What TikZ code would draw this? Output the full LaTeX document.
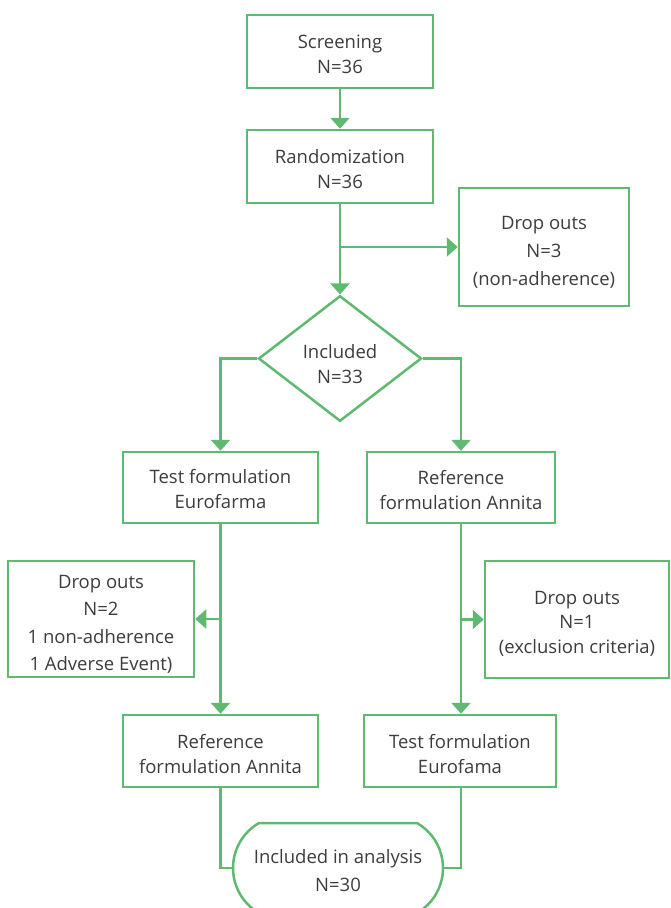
\documentclass[tikz,border=0pt]{standalone}
\usepackage{fontspec}
\setmainfont{Open Sans}
\usetikzlibrary{arrows.meta,shapes.geometric,shapes.misc}
\definecolor{flowgreen}{RGB}{96,185,112}
\definecolor{flowtext}{RGB}{60,60,60}
\begin{document}
\begin{tikzpicture}[x=10pt,y=10pt]
    \tikzstyle{every node}+=[inner sep=0pt,text=flowtext,align=center,font=\fontsize{18.5}{25}\selectfont]
    \tikzstyle{box}=[draw=flowgreen,line width=2.5pt,rectangle]
    \tikzstyle{link}=[draw=flowgreen,line width=2.5pt]
    \tikzstyle{arr}=[link,-{Triangle[width=19pt,length=11pt]}]
    \useasboundingbox (0,0) rectangle (67,-90.8);
    \node [box,minimum width=186pt,minimum height=73pt] (screen) at (34.0,-5.15) {\rule{0pt}{19pt}Screening\\N=36};
    \node [box,minimum width=186pt,minimum height=73pt] (random) at (34.0,-16.65) {\rule{0pt}{19pt}Randomization\\N=36};
    \node [box,minimum width=170pt,minimum height=118pt,font=\fontsize{18.5}{28}\selectfont] (dropA) at (54.4,-24.7) {\rule{0pt}{24pt}Drop outs\\N=3\\(non-adherence)};
    \node [box,diamond,minimum width=163pt,minimum height=125pt] (incl) at (34.0,-35.85) {\rule{0pt}{26pt}Included\\N=33};
    \node [box,minimum width=195pt,minimum height=71pt] (testA) at (22.05,-48.75) {\rule{0pt}{17pt}Test formulation\\Eurofarma};
    \node [box,minimum width=188pt,minimum height=71pt] (refA) at (46.1,-48.75) {\rule{0pt}{20pt}Reference\\formulation Annita};
    \node [box,minimum width=186pt,minimum height=116pt,font=\fontsize{18.5}{27.5}\selectfont] (dropB) at (10.1,-61.9) {\rule{0pt}{24pt}Drop outs\\N=2\\1 non-adherence\\1 Adverse Event)};
    \node [box,minimum width=184pt,minimum height=117pt,font=\fontsize{18.5}{24.5}\selectfont] (dropC) at (57.7,-61.95) {\rule{0pt}{21pt}Drop outs\\N=1\\(exclusion criteria)};
    \node [box,minimum width=195pt,minimum height=72pt] (refB) at (22.05,-75.1) {\rule{0pt}{20pt}Reference\\formulation Annita};
    \node [box,minimum width=192pt,minimum height=72pt] (testB) at (46.0,-75.1) {\rule{0pt}{20pt}Test formulation\\Eurofama};
    \node [box,rounded rectangle,rounded rectangle arc length=120,minimum width=210pt,minimum height=90pt,font=\fontsize{18.5}{28}\selectfont] (final) at (33.8,-86.8) {\rule{0pt}{19pt}Included in analysis\\N=30};
    \draw [arr] (screen) -- (random);
    \draw [arr] (random) -- (incl);
    \draw [arr] (random.south |- dropA.west) -- (dropA.west);
    \draw [arr] (incl.west) -| (testA.north);
    \draw [arr] (incl.east) -| (refA.north);
    \draw [arr] (testA.south) -- (refB.north);
    \draw [arr] (testA.south |- dropB.east) -- (dropB.east);
    \draw [arr] (refA.south) -- (refA.south |- testB.north);
    \draw [arr] (refA.south |- dropC.west) -- (dropC.west);
    \draw [link] (refB.south) |- (final.west);
    \draw [link] (refA.south |- testB.south) |- (final.east);
\end{tikzpicture}
\end{document}
